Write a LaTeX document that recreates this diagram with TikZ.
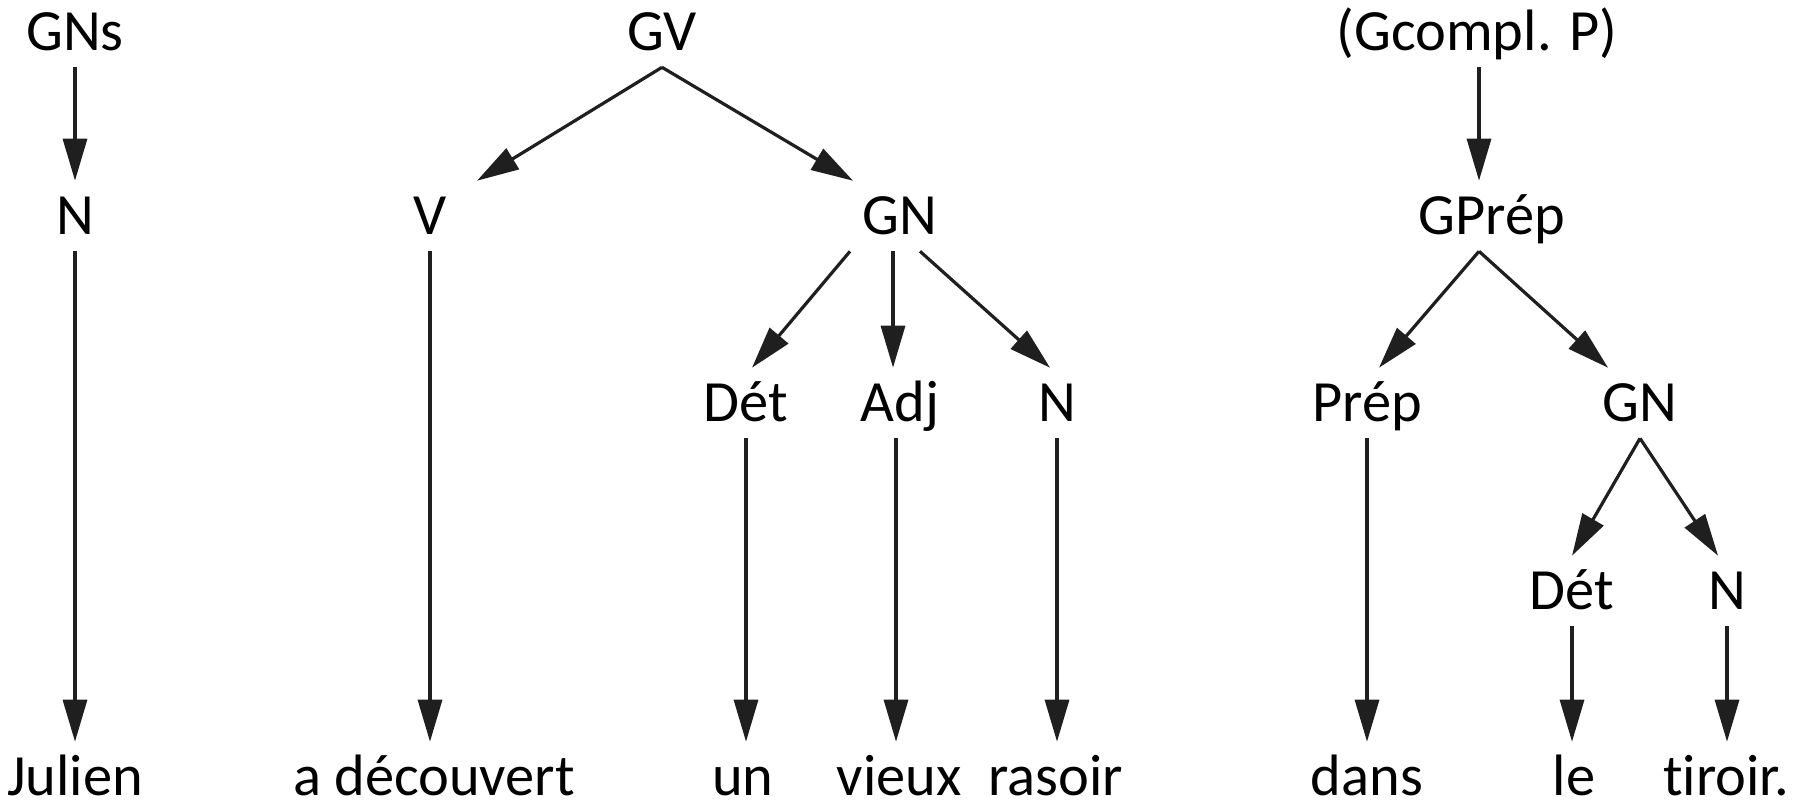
\documentclass[tikz,border=0pt]{standalone}
\usepackage{fontspec}
\setmainfont{Carlito}[Ligatures=NoCommon]
\usetikzlibrary{arrows.meta}
\tikzset{
    cat/.style={inner xsep=0pt, inner ysep=4pt, text height=9.25pt, text depth=0pt,
        font=\fontsize{14.6}{17}\selectfont},
    arc/.style={draw=black!88, line width=0.8pt, -{Triangle[length=10.5pt,width=6pt]}}
}
\begin{document}
\begin{tikzpicture}[x=0.25pt, y=-0.25pt, every node/.style={cat}]
                    \useasboundingbox (0,0) rectangle (1794,805);
                    % sujet
                    \node at (75, 32) (gns) {GNs};
                    \node at (75, 216) (n1) {N};
                    \node at (75, 777) (julien) {Julien};
                    % groupe verbal
                    \node at (662, 32) (gv) {GV};
                    \node at (430, 216) (v) {V};
                    \node at (900, 216) (gn1) {GN};
                    \node at (746, 403) (det1) {Dét};
                    \node at (900, 403) (adj) {Adj};
                    \node at (1057, 403) (n2) {N};
                    \node at (434, 777) (dec) {a découvert};
                    \node at (743, 777) (un) {un};
                    \node at (899, 777) (vieux) {vieux};
                    \node at (1056, 777) (rasoir) {rasoir};
                    % complement
                    \node at (1477, 32) (gcp) {(Gcompl. P)};
                    \node at (1492, 216) (gprep) {GPrép};
                    \node at (1367, 403) (prep) {Prép};
                    \node at (1640, 403) (gn2) {GN};
                    \node at (1572, 591) (det2) {Dét};
                    \node at (1727, 591) (n3) {N};
                    \node at (1367, 777) (dans) {dans};
                    \node at (1574, 777) (le) {le};
                    \node at (1726, 777) (tiroir) {tiroir.};

                    \path[every edge/.style={arc}]
                        (gns.south) edge (gns.south |- n1.north)
                        (n1.south) edge (n1.south |- julien.north)

                        (gv.south) edge ([xshift=11.75pt]v.north)
                        (gv.south) edge ([xshift=-11.75pt]gn1.north)
                        (v.south) edge (v.south |- dec.north)
                        ([xshift=-12.5pt]gn1.south) edge ([xshift=1.5pt]det1.north)
                        ([xshift=-1.75pt]gn1.south) edge ([xshift=-1.75pt]adj.north)
                        ([xshift=5pt]gn1.south) edge ([xshift=-1.75pt]n2.north)
                        (det1.south) edge (det1.south |- un.north)
                        ([xshift=-1pt]adj.south) edge ([xshift=-1pt]adj.south |- vieux.north)
                        (n2.south) edge (n2.south |- rasoir.north)

                        ([xshift=0.5pt]gcp.south) edge ([xshift=0.5pt]gcp.south |- gprep.north)
                        ([xshift=-3.25pt]gprep.south) edge ([xshift=3pt]prep.north)
                        ([xshift=-3.25pt]gprep.south) edge ([xshift=-8pt]gn2.north)
                        (prep.south) edge (prep.south |- dans.north)
                        (gn2.south) edge (det2.north)
                        (gn2.south) edge ([xshift=-2.25pt]n3.north)
                        (det2.south) edge (det2.south |- le.north)
                        (n3.south) edge (n3.south |- tiroir.north);
\end{tikzpicture}
\end{document}
